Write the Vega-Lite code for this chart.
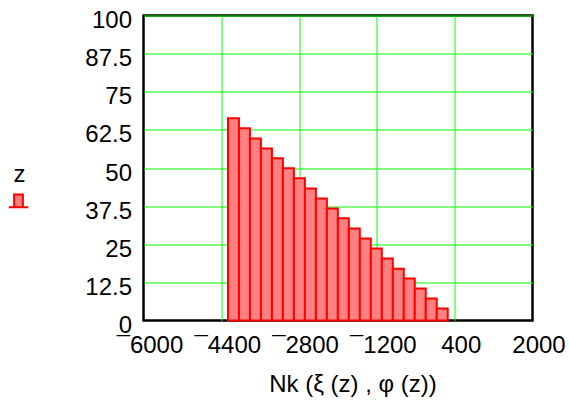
{
  "$schema": "https://vega.github.io/schema/vega-lite/v6.json",
  "width": 389,
  "height": 305,
  "autosize": "none",
  "padding": {"left": 143.5, "top": 15.5, "right": 36.5, "bottom": 82.5},
  "background": "white",
  "config": {
    "font": "Liberation Sans",
    "view": {"stroke": "black", "strokeWidth": 2.5}
  },
  "data": {
    "values": [
      {"lo": -4263, "hi": -4037, "z": 66.3},
      {"lo": -4037, "hi": -3811, "z": 63.0},
      {"lo": -3811, "hi": -3585, "z": 59.7},
      {"lo": -3585, "hi": -3359, "z": 56.4},
      {"lo": -3359, "hi": -3133, "z": 53.2},
      {"lo": -3133, "hi": -2907, "z": 49.9},
      {"lo": -2907, "hi": -2681, "z": 46.6},
      {"lo": -2681, "hi": -2455, "z": 43.3},
      {"lo": -2455, "hi": -2229, "z": 40.0},
      {"lo": -2229, "hi": -2003, "z": 36.7},
      {"lo": -2003, "hi": -1777, "z": 33.5},
      {"lo": -1777, "hi": -1551, "z": 30.2},
      {"lo": -1551, "hi": -1325, "z": 26.9},
      {"lo": -1325, "hi": -1099, "z": 23.6},
      {"lo": -1099, "hi": -873, "z": 20.3},
      {"lo": -873, "hi": -647, "z": 17.0},
      {"lo": -647, "hi": -421, "z": 13.8},
      {"lo": -421, "hi": -195, "z": 10.5},
      {"lo": -195, "hi": 31, "z": 7.2},
      {"lo": 31, "hi": 257, "z": 3.9}
    ]
  },
  "mark": {"type": "bar", "stroke": "#ff0000", "strokeWidth": 2, "fillOpacity": 1},
  "encoding": {
    "x": {
      "field": "lo",
      "type": "quantitative",
      "scale": {"domain": [-6000, 2000], "nice": false, "zero": false},
      "axis": {
        "values": [-6000, -4400, -2800, -1200, 400, 2000],
        "format": "d",
        "labelExpr": "replace(replace(datum.label, '−', '¯'), '-', '¯')",
        "ticks": false,
        "domain": false,
        "labelFontSize": 24,
        "labelColor": "black",
        "labelPadding": 13,
        "labelOffset": 6,
        "labelFlush": false,
        "labelOverlap": false,
        "gridColor": {"condition": {"test": "datum.value === -6000 || datum.value === 2000", "value": "transparent"}, "value": "#00ff00"},
        "gridOpacity": 1,
        "gridWidth": 1,
        "title": "Nk (ξ (z) , φ (z))",
        "titleFontSize": 24,
        "titleFontWeight": "normal",
        "titleColor": "black",
        "titleX": 209,
        "titleY": 64,
        "titleBaseline": "middle"
      }
    },
    "x2": {"field": "hi"},
    "y": {
      "field": "z",
      "type": "quantitative",
      "scale": {"domain": [0, 100], "nice": false},
      "axis": {
        "values": [0, 12.5, 25, 37.5, 50, 62.5, 75, 87.5, 100],
        "format": ".1~f",
        "ticks": false,
        "domain": false,
        "labelFontSize": 24,
        "labelColor": "black",
        "labelPadding": 12,
        "labelBaseline": "middle",
        "labelOffset": 5,
        "labelFlush": false,
        "labelOverlap": false,
        "gridColor": {"condition": {"test": "datum.value === 0", "value": "transparent"}, "value": "#00ff00"},
        "gridOpacity": 1,
        "gridWidth": 1,
        "title": null
      }
    },
    "y2": {"datum": 0},
    "fill": {
      "datum": "z",
      "type": "nominal",
      "scale": {"range": ["#ff8080"]},
      "legend": {
        "orient": "none",
        "legendX": -136,
        "legendY": 147,
        "padding": 0,
        "title": "z",
        "titleFontSize": 24,
        "titleFontWeight": "normal",
        "titleColor": "black",
        "titleAnchor": "middle",
        "titlePadding": 0,
        "labelExpr": "''",
        "labelOffset": 0,
        "symbolType": "M-0.45,1V-0.3H0.45V1Z M-1,1H1",
        "symbolSize": 380,
        "symbolStrokeColor": "#ff0000",
        "symbolStrokeWidth": 2,
        "symbolOpacity": 1
      }
    }
  }
}
